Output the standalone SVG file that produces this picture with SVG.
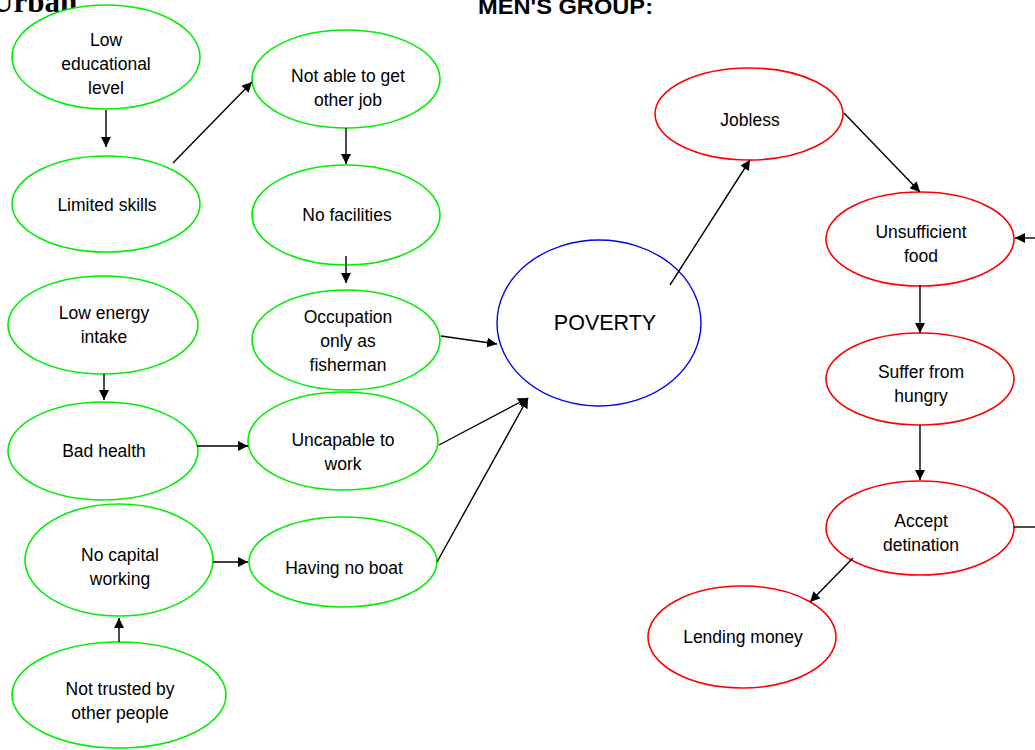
<svg xmlns="http://www.w3.org/2000/svg" width="1035" height="750" viewBox="0 0 1035 750">
  <style>
    .g { fill: #ffffff; stroke: #00ee00; stroke-width: 1.6; }
    .r { fill: #ffffff; stroke: #ff0000; stroke-width: 1.6; }
    .b { fill: #ffffff; stroke: #0000ee; stroke-width: 1.4; }
    .t { font-family: "Liberation Sans", Arial, sans-serif; font-size: 17.5px; fill: #000; text-anchor: middle; }
    .big { font-size: 21.5px; }
    .c { stroke: #000; stroke-width: 1.4; fill: none; }
    .a { marker-end: url(#arrow); }
  </style>
  <defs>
    <marker id="arrow" viewBox="0 0 10 10" refX="10" refY="5" markerWidth="10" markerHeight="10" markerUnits="userSpaceOnUse" orient="auto">
      <path d="M0,0 L10,5 L0,10 z" fill="#000"/>
    </marker>
  </defs>
  <rect width="1035" height="750" fill="#ffffff"/>

  <text x="-9" y="12" font-family="Liberation Serif, 'Times New Roman', serif" font-size="31" font-weight="bold" fill="#000">Urban</text>
  <text x="478" y="14" font-family="Liberation Sans, Arial, sans-serif" font-size="22" font-weight="bold" fill="#000" textLength="175" lengthAdjust="spacingAndGlyphs">MEN'S GROUP:</text>

  <g id="low-educational-level">
    <ellipse class="g" cx="106" cy="57" rx="94" ry="52"/>
    <text class="t" x="106" y="46">Low</text>
    <text class="t" x="106" y="70">educational</text>
    <text class="t" x="106" y="94">level</text>
  </g>
  <g id="limited-skills">
    <ellipse class="g" cx="106" cy="204" rx="94" ry="48"/>
    <text class="t" x="107" y="211">Limited skills</text>
  </g>
  <g id="not-able-to-get-other-job">
    <ellipse class="g" cx="346" cy="79" rx="94" ry="49"/>
    <text class="t" x="348" y="82">Not able to get</text>
    <text class="t" x="348" y="106">other job</text>
  </g>
  <g id="no-facilities">
    <ellipse class="g" cx="346" cy="215" rx="94" ry="50"/>
    <text class="t" x="347" y="221">No facilities</text>
  </g>
  <g id="occupation-fisherman">
    <ellipse class="g" cx="346" cy="340" rx="94" ry="50"/>
    <text class="t" x="348" y="323">Occupation</text>
    <text class="t" x="348" y="347">only as</text>
    <text class="t" x="348" y="371">fisherman</text>
  </g>
  <g id="low-energy-intake">
    <ellipse class="g" cx="103" cy="325" rx="95" ry="49"/>
    <text class="t" x="104" y="319">Low energy</text>
    <text class="t" x="104" y="343">intake</text>
  </g>
  <g id="bad-health">
    <ellipse class="g" cx="103" cy="451" rx="95" ry="49"/>
    <text class="t" x="104" y="457">Bad health</text>
  </g>
  <g id="uncapable-to-work">
    <ellipse class="g" cx="343" cy="441" rx="95" ry="49"/>
    <text class="t" x="343" y="446">Uncapable to</text>
    <text class="t" x="343" y="470">work</text>
  </g>
  <g id="no-capital-working">
    <ellipse class="g" cx="119" cy="560" rx="94" ry="56"/>
    <text class="t" x="120" y="561">No capital</text>
    <text class="t" x="120" y="585">working</text>
  </g>
  <g id="having-no-boat">
    <ellipse class="g" cx="343" cy="562" rx="94" ry="45"/>
    <text class="t" x="344" y="574">Having no boat</text>
  </g>
  <g id="not-trusted">
    <ellipse class="g" cx="119" cy="695" rx="107" ry="53"/>
    <text class="t" x="120" y="695">Not trusted by</text>
    <text class="t" x="120" y="719">other people</text>
  </g>
  <g id="poverty">
    <ellipse class="b" cx="599" cy="323" rx="102" ry="83"/>
    <text class="t big" x="605" y="330">POVERTY</text>
  </g>
  <g id="jobless">
    <ellipse class="r" cx="749" cy="114" rx="94" ry="46"/>
    <text class="t" x="750" y="126">Jobless</text>
  </g>
  <g id="unsufficient-food">
    <ellipse class="r" cx="920" cy="239" rx="94" ry="47"/>
    <text class="t" x="921" y="238">Unsufficient</text>
    <text class="t" x="921" y="262">food</text>
  </g>
  <g id="suffer-from-hungry">
    <ellipse class="r" cx="920" cy="379" rx="94" ry="46"/>
    <text class="t" x="921" y="378">Suffer from</text>
    <text class="t" x="921" y="402">hungry</text>
  </g>
  <g id="accept-detination">
    <ellipse class="r" cx="920" cy="528" rx="94" ry="47"/>
    <text class="t" x="921" y="527">Accept</text>
    <text class="t" x="921" y="551">detination</text>
  </g>
  <g id="lending-money">
    <ellipse class="r" cx="742" cy="637" rx="94" ry="51"/>
    <text class="t" x="743" y="643">Lending money</text>
  </g>

  <g id="connectors">
    <line class="c a" x1="106" y1="110" x2="106" y2="147"/>
    <line class="c a" x1="173" y1="163" x2="252" y2="82"/>
    <line class="c a" x1="346" y1="128" x2="346" y2="164"/>
    <line class="c a" x1="346" y1="256" x2="346" y2="283"/>
    <line class="c a" x1="104" y1="374" x2="104" y2="400"/>
    <line class="c a" x1="197" y1="446" x2="248" y2="446"/>
    <line class="c a" x1="213" y1="562" x2="248" y2="562"/>
    <line class="c a" x1="119" y1="642" x2="119" y2="618"/>
    <line class="c a" x1="441" y1="336" x2="497" y2="344"/>
    <line class="c a" x1="439" y1="445" x2="528" y2="398"/>
    <line class="c a" x1="437" y1="562" x2="528" y2="398"/>
    <line class="c a" x1="670" y1="285" x2="750" y2="160"/>
    <line class="c a" x1="844" y1="113" x2="920" y2="192"/>
    <line class="c a" x1="920" y1="285" x2="920" y2="333"/>
    <line class="c a" x1="920" y1="425" x2="920" y2="480"/>
    <line class="c a" x1="853" y1="558" x2="810" y2="602"/>
    <line class="c" x1="1014" y1="527" x2="1040" y2="527"/>
    <line class="c a" x1="1040" y1="238" x2="1015" y2="238"/>
  </g>
</svg>
